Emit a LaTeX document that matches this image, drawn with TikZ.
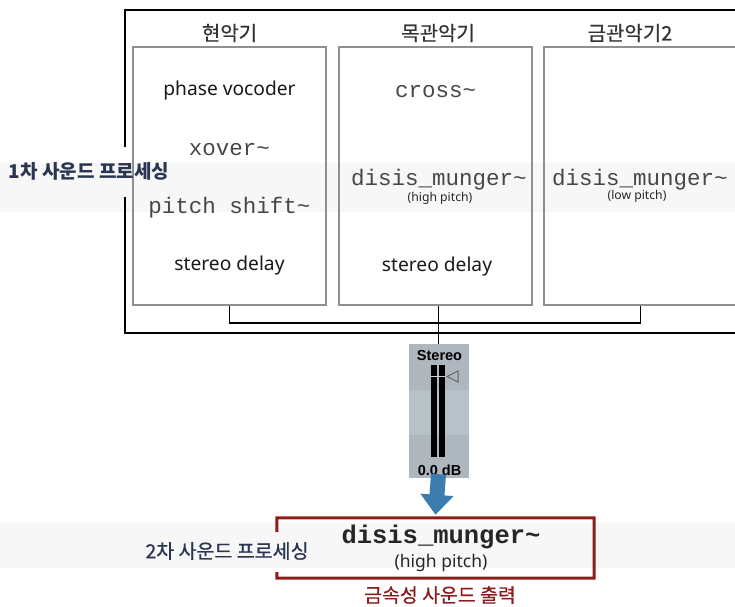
\documentclass[tikz,border=0pt]{standalone}
\usepackage{fontspec}
\setmainfont{Noto Sans}
\setmonofont{Liberation Mono}
\newfontfamily\kr{Noto Sans CJK KR}
\newfontfamily\krm[FakeBold=0.6]{Noto Sans CJK KR}
\newfontfamily\arial{Liberation Sans}
\usetikzlibrary{arrows.meta}
\definecolor{bandgray}{HTML}{F7F7F7}
\definecolor{boxgray}{HTML}{8C9094}
\definecolor{navy}{HTML}{2A3552}
\definecolor{darkred}{HTML}{8B1C1C}
\definecolor{meterbg}{HTML}{AEB6BE}
\definecolor{meterlt}{HTML}{B7C1C8}
\definecolor{arrowblue}{HTML}{3B7DAE}
\tikzset{
  instbox/.style={draw=boxgray, line width=1.5pt, minimum width=193pt, minimum height=258pt, inner sep=0pt},
  frameline/.style={line width=2pt, black},
  conn/.style={line width=1.5pt, black},
  title/.style={font=\krm\fontsize{20}{24}\selectfont, text=black!80, inner sep=0pt},
  sanslbl/.style={font=\fontsize{19.2}{22}\selectfont, text=black!90, inner sep=0pt},
  monolbl/.style={font=\ttfamily\fontsize{22.5}{25}\selectfont, text=black!72, inner sep=0pt},
  small/.style={font=\fontsize{12.2}{14}\selectfont, text=black!85, inner sep=0pt},
  meterlbl/.style={font=\arial\bfseries\fontsize{14.5}{16}\selectfont, inner sep=0pt},
}
\begin{document}
\begin{tikzpicture}[x=1pt,y=-1pt]
\useasboundingbox (0,0) rectangle (735,606);
% light bands
\fill[bandgray] (0,163) rectangle (735,212);
\fill[bandgray] (0,523) rectangle (735,568);
% outer frame
\draw[frameline] (125,147) -- (125,10) -- (745,10);
\draw[frameline] (125,197) -- (125,333) -- (745,333);
% instrument boxes
\node[instbox] (b1) at (229.5,176) {};
\node[instbox] (b2) at (435.5,176) {};
\node[instbox] (b3) at (640.5,176) {};
\node[title] (t1) at (229.5,33) {현악기};
\node[title] (t2) at (438,33) {목관악기};
\node[title] (t3) at (630,33) {금관악기2};
% box 1 content
\node[sanslbl] (p1) at (229.5,91) {phase vocoder};
\node[monolbl] (p2) at (229.5,150) {xover\char`\~};
\node[monolbl] (p3) at (229.5,208) {pitch shift\char`\~};
\node[sanslbl] (p4) at (229.5,265) {stereo delay};
% box 2 content
\node[monolbl] (w1) at (435.5,92) {cross\char`\~};
\node[monolbl] (w2) at (439,180) {disis\char`\_munger\char`\~};
\node[small] (w3) at (440,198) {(high pitch)};
\node[sanslbl] (w4) at (437,266) {stereo delay};
% box 3 content
\node[monolbl] (c1) at (640,180) {disis\char`\_munger\char`\~};
\node[small] (c2) at (637,196) {(low pitch)};
% left label
\node[font=\kr\bfseries\fontsize{19}{22}\selectfont, text=navy, inner sep=0pt] (l1) at (89,171) {1차 사운드 프로세싱};
% meter
\node[fill=meterbg, minimum width=60pt, minimum height=134pt, inner sep=0pt] (meter) at (438.5,411) {};
\fill[meterlt] (408.5,390) rectangle (468.5,435);
\fill[black] (431,365) rectangle (437,457);
\fill[black] (439,365) rectangle (445,457);
\draw[meterbg!60!white, line width=0.6pt] (431,376) -- (445,376);
\draw[black!60, line width=1pt] (458,371) -- (447,376.5) -- (458,382) -- cycle;
\node[meterlbl] (st) at (439.5,355) {Stereo};
\node[meterlbl] (db) at (439.5,470) {0.0 dB};
% connectors
\draw[conn] (b1.south) -- ++(0,17) -| (b3.south);
\draw[conn] (meter.north) -- (meter.north |- b2.south);
% output box
\node[minimum width=317pt, minimum height=60pt, inner sep=0pt] (out) at (435.5,548) {};
\draw[darkred, line width=3pt] (277,532) -- (out.north west) -- (out.north east) -- (out.south east) -- (out.south west) -- (277,572);
\node[font=\ttfamily\bfseries\fontsize{25.5}{28}\selectfont, text=black!85, inner sep=0pt] (o1) at (441,537) {disis\char`\_munger\char`\~};
\node[font=\fontsize{17.5}{20}\selectfont, text=black!85, inner sep=0pt] (o2) at (441,563) {(high pitch)};
\draw[arrowblue, line width=15pt, -{Triangle[width=32pt,length=20pt]}] ([yshift=4pt]meter.south) -- ([yshift=3pt]out.north);
\node[font=\krm\fontsize{19.5}{22}\selectfont, text=navy, inner sep=0pt] (l2) at (227,551) {2차 사운드 프로세싱};
\node[font=\krm\fontsize{19.4}{22}\selectfont, text=darkred, inner sep=0pt] (l3) at (440,595) {금속성 사운드 출력};
\end{tikzpicture}
\end{document}
